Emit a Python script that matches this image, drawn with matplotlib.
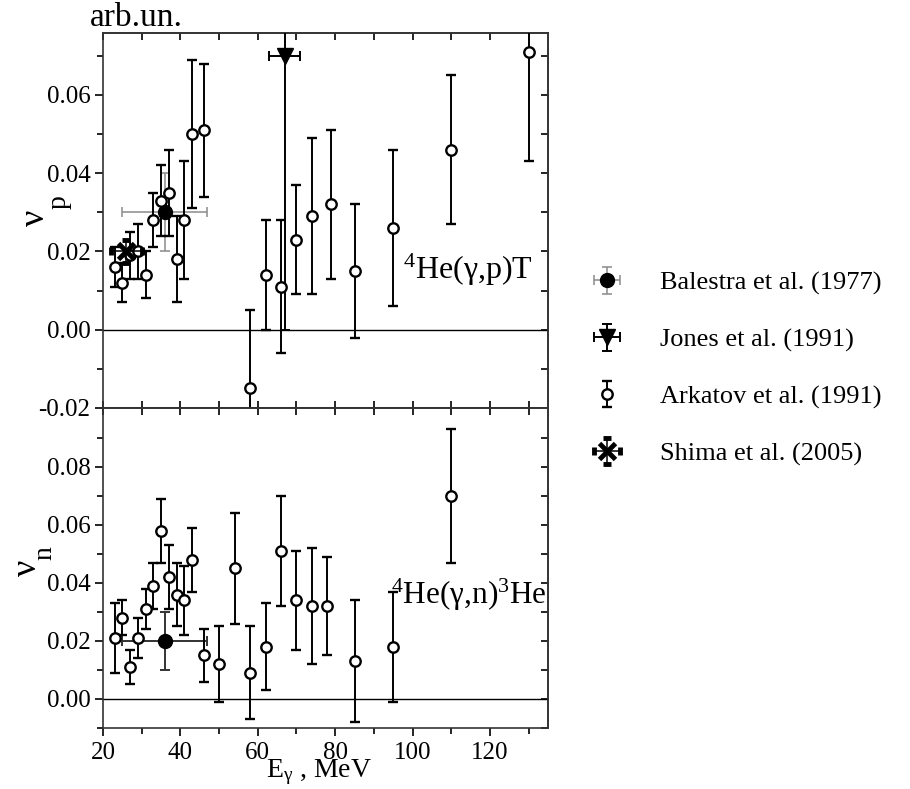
import numpy as np
import matplotlib
matplotlib.use('Agg')
import matplotlib.pyplot as plt

plt.rcParams['font.family'] = ['Liberation Serif', 'DejaVu Serif']
plt.rcParams['mathtext.fontset'] = 'custom'
plt.rcParams['mathtext.rm'] = 'Liberation Serif'
plt.rcParams['mathtext.it'] = 'Liberation Serif:italic'

# Arkatov et al. (1991), 4He(g,p)T
x_p = [23, 25, 27, 29, 31, 33, 35, 37, 39, 41, 43, 46, 58, 62, 66, 70, 74, 79, 85, 95, 110, 130]
y_p = [0.016, 0.012, 0.019, 0.020, 0.014, 0.028, 0.033, 0.035, 0.018, 0.028, 0.050, 0.051,
       -0.015, 0.014, 0.011, 0.023, 0.029, 0.032, 0.015, 0.026, 0.046, 0.071]
e_p = [0.005, 0.005, 0.006, 0.007, 0.006, 0.007, 0.009, 0.011, 0.011, 0.015, 0.019, 0.017,
       0.020, 0.014, 0.017, 0.014, 0.020, 0.019, 0.017, 0.020, 0.019, 0.028]

# Arkatov et al. (1991), 4He(g,n)3He
x_n = [23, 25, 27, 29, 31, 33, 35, 37, 39, 41, 43, 46, 50, 54, 58, 62, 66, 70, 74, 78, 85, 95, 110]
y_n = [0.021, 0.028, 0.011, 0.021, 0.031, 0.039, 0.058, 0.042, 0.036, 0.034, 0.048, 0.015,
       0.012, 0.045, 0.009, 0.018, 0.051, 0.034, 0.032, 0.032, 0.013, 0.018, 0.070]
e_n = [0.012, 0.006, 0.006, 0.007, 0.007, 0.008, 0.011, 0.011, 0.011, 0.012, 0.011, 0.009,
       0.013, 0.019, 0.016, 0.015, 0.019, 0.017, 0.020, 0.017, 0.021, 0.019, 0.023]

# Balestra et al. (1977)
bal_x = [36]
bal_xerr = [11]
bal_p, bal_p_err = [0.030], [0.010]
bal_n, bal_n_err = [0.020], [0.010]

# Jones et al. (1991)
jon_x, jon_xerr = [67], [4]
jon_p, jon_p_err = [0.070], [0.070]

# Shima et al. (2005)
shi_x, shi_xerr = [26], [4]
shi_p, shi_p_err = [0.020], [0.003]

x_major = [20, 40, 60, 80, 100, 120]
x_minor = [30, 50, 70, 90, 110, 130]
yp_major = [-0.02, 0.00, 0.02, 0.04, 0.06]
yp_minor = [-0.01, 0.01, 0.03, 0.05, 0.07]
yn_major = [0.00, 0.02, 0.04, 0.06, 0.08]
yn_minor = [-0.01, 0.01, 0.03, 0.05, 0.07, 0.09]

fig = plt.figure(figsize=(9.1, 7.89), dpi=100)
ax1 = fig.add_axes([0.1132, 0.4829, 0.489, 0.4753])
ax2 = fig.add_axes([0.1132, 0.0773, 0.489, 0.4056])

open_kw = dict(fmt='o', ms=7.5, mfc='white', mec='k', mew=1.7, color='k',
               ecolor='k', elinewidth=1.4, capsize=3.5, capthick=1.4, zorder=4)

h_bal = ax1.errorbar(bal_x, bal_p, yerr=bal_p_err, xerr=bal_xerr, fmt='o', ms=10,
                     color='k', ecolor='#8a8a8a', elinewidth=1.1, capsize=3.5,
                     capthick=1.1, zorder=3)
h_jon = ax1.errorbar(jon_x, jon_p, yerr=jon_p_err, xerr=jon_xerr, fmt='v', ms=11,
                     color='k', ecolor='k', elinewidth=1.4, capsize=3.5,
                     capthick=1.4, zorder=3)
h_ark = ax1.errorbar(x_p, y_p, yerr=e_p, **open_kw)
h_shi = ax1.errorbar(shi_x, shi_p, yerr=shi_p_err, xerr=shi_xerr, fmt='x', ms=11,
                     mew=3.5, color='k', ecolor='k', elinewidth=1.1, capsize=3,
                     capthick=1.1, zorder=5)

ax2.errorbar(bal_x, bal_n, yerr=bal_n_err, xerr=bal_xerr, fmt='o', ms=10,
             color='k', ecolor='#333333', elinewidth=1.4, capsize=3.5,
             capthick=1.4, zorder=3)
ax2.errorbar(x_n, y_n, yerr=e_n, **open_kw)

ax1.set_ylim(-0.02, 0.0758)
ax2.set_ylim(-0.01, 0.1003)

for ax, ymaj, ymin in ((ax1, yp_major, yp_minor), (ax2, yn_major, yn_minor)):
    ax.axhline(0, color='k', lw=1.0, zorder=1)
    ax.set_xlim(20, 135)
    ax.set_xticks(x_major)
    ax.set_xticks(x_minor, minor=True)
    ax.set_yticks(ymaj)
    ax.set_yticks(ymin, minor=True)
    ax.set_yticklabels(['%.2f' % v for v in ymaj])
    for s in ax.spines.values():
        s.set_linewidth(1.2)
        s.set_color('#333333')
    ax.tick_params(axis='y', which='major', direction='out', length=6, width=1.2,
                   labelsize=18, pad=3)
    ax.tick_params(axis='y', which='minor', direction='out', length=4, width=1.2)
    # right and top ticks point inward
    sy = ax.secondary_yaxis('right')
    sy.set_yticks(ymaj)
    sy.set_yticks(ymin, minor=True)
    sy.tick_params(which='both', direction='in', length=5, width=1.2,
                   labelright=False)
    sy.spines['right'].set_linewidth(1.2)
    sy.spines['right'].set_color('#333333')
    sx = ax.secondary_xaxis('top')
    sx.set_xticks(x_major)
    sx.set_xticks(x_minor, minor=True)
    sx.tick_params(which='both', direction='in', length=5, width=1.2,
                   labeltop=False)
    sx.spines['top'].set_linewidth(1.2)
    sx.spines['top'].set_color('#333333')

ax1.tick_params(axis='x', which='both', direction='in', length=5, width=1.2,
                labelbottom=False)
ax2.tick_params(axis='x', which='major', direction='out', length=6, width=1.2,
                labelsize=18, pad=4)
ax2.tick_params(axis='x', which='minor', direction='out', length=4, width=1.2)

ax1.text(97.6, 0.0153, r'$^{4}$He(γ,p)T', fontsize=23, va='center', ha='left')
ax2.text(94.3, 0.0359, r'$^{4}$He(γ,n)$^{3}$He', fontsize=22.5, va='center', ha='left')

fig.text(0.150, 0.978, 'arb.un.', fontsize=24, ha='center', va='center')
fig.text(35 / 910, 1 - 218 / 789, 'ν', fontsize=26, rotation=90, ha='center', va='center')
fig.text(59 / 910, 1 - 202 / 789, 'p', fontsize=20, rotation=90, ha='center', va='center')
fig.text(27 / 910, 1 - 568 / 789, 'ν', fontsize=26, rotation=90, ha='center', va='center')
fig.text(45 / 910, 1 - 553 / 789, 'n', fontsize=20, rotation=90, ha='center', va='center')
fig.text(0.350, 1 - 777 / 789, 'E$_\\mathregular{γ}$ , MeV', fontsize=20,
         ha='center', va='baseline')

fig.legend([h_bal, h_jon, h_ark, h_shi],
           ['Balestra et al. (1977)', 'Jones et al. (1991)',
            'Arkatov et al. (1991)', 'Shima et al. (2005)'],
           loc='center left', bbox_to_anchor=(0.612, 0.533), frameon=False,
           fontsize=19, handlelength=2.0, handletextpad=1.0, labelspacing=1.25)

fig.savefig('out.png', dpi=100)
